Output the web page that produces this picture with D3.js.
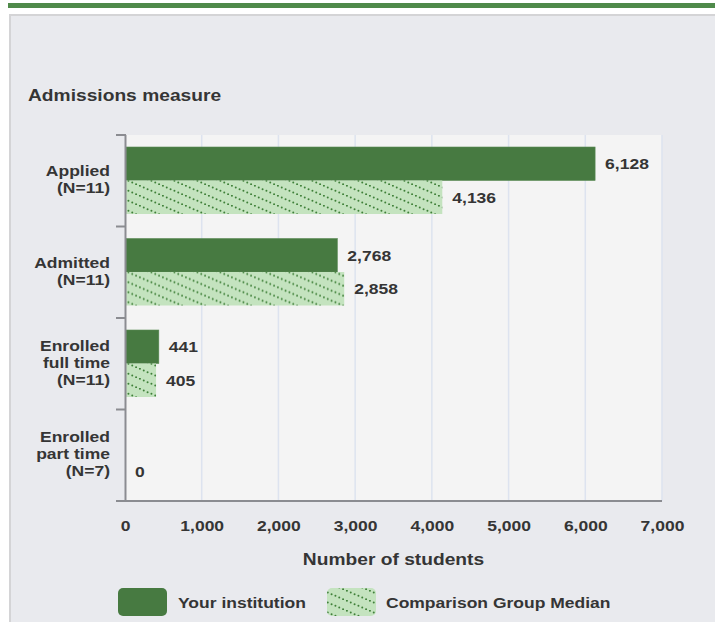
<!DOCTYPE html>
<html>
<head>
<meta charset="utf-8">
<script src="https://cdn.jsdelivr.net/npm/d3@7"></script>
<style>
  html, body { margin: 0; padding: 0; background: #ffffff; }
  svg { display: block; }
  text { font-family: "Liberation Sans", Arial, Helvetica, sans-serif; font-weight: bold; fill: #353535; }
</style>
</head>
<body>
<script>
// ---- data ----
const categories = ["Applied", "Admitted", "Enrolled full time", "Enrolled part time"];
const categoryLines = [
  ["Applied", "(N=11)"],
  ["Admitted", "(N=11)"],
  ["Enrolled", "full time", "(N=11)"],
  ["Enrolled", "part time", "(N=7)"]
];
const seriesNames = ["Your institution", "Comparison Group Median"];
const institutionValues = [6128, 2768, 441, null];
const comparisonValues = [4136, 2858, 405, 0];
const xTickValues = [0, 1000, 2000, 3000, 4000, 5000, 6000, 7000];
const chartTitle = "Admissions measure";
const xAxisTitle = "Number of students";

// ---- setup ----
const W = 715, H = 622;
const SX = 1.13; // horizontal text stretch
const darkGreen = "#477a41";
const lightGreen = "#c4e3bf";
const dotGreen = "#3f8039";

const svg = d3.select("body").append("svg").attr("width", W).attr("height", H);

const defs = svg.append("defs");
const pat = defs.append("pattern")
  .attr("id", "hatch")
  .attr("patternUnits", "userSpaceOnUse")
  .attr("width", 23).attr("height", 10);
pat.append("rect").attr("width", 23).attr("height", 10).attr("fill", lightGreen);
for (let i = 0; i < 6; i++) {
  const t = (i + 0.5) / 6;
  pat.append("circle").attr("cx", 23 * t).attr("cy", 10 * t).attr("r", 1.0).attr("fill", dotGreen);
}

function stretchedText(g, x, y, str, size, anchor) {
  return g.append("text")
    .attr("transform", `translate(${x},${y}) scale(${SX},1)`)
    .attr("text-anchor", anchor || "start")
    .style("font-size", size + "px")
    .text(str);
}

// top green line and panel
svg.append("rect").attr("x", 8).attr("y", 3).attr("width", W).attr("height", 5).attr("fill", "#4f8a4a");
svg.append("rect").attr("x", 10).attr("y", 15).attr("width", W + 10).attr("height", H + 10)
  .attr("fill", "#e9eaee").attr("stroke", "#d4d4d6").attr("stroke-width", 2);

stretchedText(svg, 28, 101, chartTitle, 17, "start");

// scales
const x = d3.scaleLinear().domain([0, 7000]).range([125, 662]);
const y = d3.scaleBand().domain(categories).range([135, 501]).padding(0);
const ySub = d3.scaleBand().domain(seriesNames).range([12, y.bandwidth() - 12.5]).padding(0);

// plot background
svg.append("rect")
  .attr("x", x(0)).attr("y", y.range()[0])
  .attr("width", x(7000) - x(0)).attr("height", y.range()[1] - y.range()[0])
  .attr("fill", "#f4f4f4");

// gridlines
svg.append("g").selectAll("line")
  .data(xTickValues.filter(d => d > 0))
  .join("line")
  .attr("x1", d => x(d)).attr("x2", d => x(d))
  .attr("y1", y.range()[0]).attr("y2", y.range()[1])
  .attr("stroke", "#dde3ef").attr("stroke-width", 1.5);

// bars
const rows = categories.map((c, i) => ({
  cat: c,
  vals: [
    { s: seriesNames[0], v: institutionValues[i] },
    { s: seriesNames[1], v: comparisonValues[i] }
  ]
}));

const gRows = svg.append("g").selectAll("g").data(rows).join("g")
  .attr("transform", d => `translate(0,${y(d.cat)})`);

gRows.selectAll("rect")
  .data(d => d.vals.filter(e => e.v !== null && e.v > 0))
  .join("rect")
  .attr("x", x(0) + 1)
  .attr("y", e => ySub(e.s))
  .attr("width", e => x(e.v) - x(0) - 1)
  .attr("height", ySub.bandwidth())
  .attr("fill", e => e.s === seriesNames[0] ? darkGreen : "url(#hatch)")
  .attr("stroke", e => e.s === seriesNames[0] ? "#5a8a55" : "none")
  .attr("stroke-width", 0.6);

gRows.each(function (d) {
  const g = d3.select(this);
  d.vals.filter(e => e.v !== null).forEach(e => {
    stretchedText(g, x(e.v) + 10, ySub(e.s) + ySub.bandwidth() / 2 + 5.5, d3.format(",")(e.v), 15.5, "start");
  });
});

// category labels
categories.forEach((c, i) => {
  const lines = categoryLines[i];
  const cy = y(c) + y.bandwidth() / 2 + 4;
  lines.forEach((ln, j) => {
    stretchedText(svg, 110, cy + (j - (lines.length - 1) / 2) * 17, ln, 15.5, "end");
  });
});

// y axis line and ticks
const axisColor = "#8b8c91";
svg.append("line")
  .attr("x1", x(0) + 0.5).attr("x2", x(0) + 0.5)
  .attr("y1", y.range()[0]).attr("y2", y.range()[1])
  .attr("stroke", axisColor).attr("stroke-width", 2);
const boundaries = categories.map(c => y(c));
svg.append("g").selectAll("line").data(boundaries).join("line")
  .attr("x1", 116).attr("x2", x(0) + 1)
  .attr("y1", d => d).attr("y2", d => d)
  .attr("stroke", axisColor).attr("stroke-width", 2);
// bottom axis line
svg.append("line")
  .attr("x1", 116).attr("x2", x(7000))
  .attr("y1", y.range()[1]).attr("y2", y.range()[1])
  .attr("stroke", axisColor).attr("stroke-width", 2);

// x axis labels
const xAxis = d3.axisBottom(x).tickValues(xTickValues).tickFormat(d3.format(",")).tickSize(0).tickPadding(0);
const gx = svg.append("g").attr("transform", `translate(0,${y.range()[1]})`).call(xAxis);
gx.select(".domain").remove();
gx.selectAll("text")
  .attr("y", 30).attr("dy", 0)
  .attr("transform", `scale(${SX},1)`)
  .style("font-size", "15.5px")
  .style("font-family", '"Liberation Sans", Arial, sans-serif')
  .style("font-weight", "bold")
  .attr("fill", "#353535");

stretchedText(svg, (x(0) + x(7000)) / 2, 565, xAxisTitle, 17, "middle");

// legend
const legend = svg.append("g");
const legendItems = [
  { name: seriesNames[0], fill: darkGreen, x: 118, tx: 178 },
  { name: seriesNames[1], fill: "url(#hatch)", x: 327, tx: 386 }
];
legendItems.forEach(it => {
  legend.append("rect").attr("x", it.x).attr("y", 588).attr("width", 49).attr("height", 28)
    .attr("rx", 5).attr("fill", it.fill);
  stretchedText(legend, it.tx, 608, it.name, 15.5, "start");
});
</script>
</body>
</html>
